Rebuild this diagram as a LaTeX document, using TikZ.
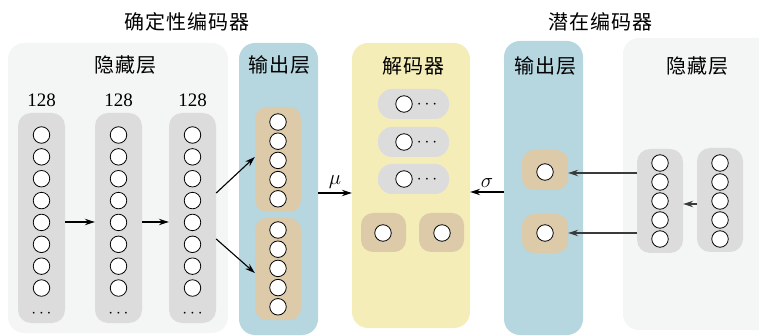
\documentclass[tikz,border=0pt]{standalone}
\usepackage{fontspec}
\setmainfont{Liberation Serif}
\newfontfamily\cjk[LetterSpace=5]{Noto Sans CJK SC}
\usetikzlibrary{arrows.meta}
\definecolor{hidbg}{HTML}{F4F6F5}
\definecolor{colgray}{HTML}{DCDCDC}
\definecolor{outblue}{HTML}{B6D7E0}
\definecolor{tanc}{HTML}{DCCAA8}
\definecolor{decyel}{HTML}{F5EDB8}
\definecolor{arrgray}{HTML}{3A3A3A}
\begin{document}
\begin{tikzpicture}[x=1pt,y=-1pt,
  neuron/.style={circle,draw=black,fill=white,line width=0.8pt,minimum size=16.5pt,inner sep=0pt},
  bigbox/.style={rounded corners=16pt,inner sep=0pt},
  colbox/.style={fill=colgray,rounded corners=13pt,inner sep=0pt},
  tanbox/.style={fill=tanc,rounded corners=12pt,inner sep=0pt},
  lab/.style={font=\cjk\fontsize{20}{20}\selectfont,inner sep=0pt},
  num/.style={font=\fontsize{19}{19}\selectfont,inner sep=0pt},
  arr/.style={line width=1.1pt,-{Stealth[length=10pt,width=6.5pt]}},
  arrg/.style={arr,draw=arrgray},
  dotsnode/.style={font=\fontsize{19}{19}\selectfont,inner sep=0pt,anchor=base,yshift=-4.8pt},
  greek/.style={font=\fontsize{20}{20}\selectfont,inner sep=1pt}
]
\useasboundingbox (0,0) rectangle (759,336);
% backgrounds
\node[bigbox,fill=hidbg,minimum width=220pt,minimum height=290pt] (hidL) at (118,188) {};
\node[bigbox,fill=outblue,minimum width=79pt,minimum height=292pt] (outL) at (278.5,189) {};
\node[bigbox,fill=decyel,minimum width=118pt,minimum height=285pt] (dec) at (411,185.5) {};
\node[bigbox,fill=outblue,minimum width=79pt,minimum height=294pt] (outR) at (543.5,188) {};
\fill[hidbg,rounded corners=16pt] (759,38) -- (623,38) -- (623,330) -- (759,330);
% titles and labels
\node[lab] (t1) at (187,22) {确定性编码器};
\node[lab] (t2) at (600,22) {潜在编码器};
\node[lab] (l1) at (125,65) {隐藏层};
\node[lab] (l2) at (279,65) {输出层};
\node[lab] (l3) at (413,66) {解码器};
\node[lab] (l4) at (545,66) {输出层};
\node[lab] (l5) at (697,66) {隐藏层};
% hidden columns (left)
\foreach \n/\x in {1/41.5,2/118.5,3/192.5}{
  \node[colbox,minimum width=47pt,minimum height=210pt] (col\n) at (\x,218) {};
  \node[num] (n\n) at (\x,100) {128};
  \node[dotsnode] (d\n) at (\x,313) {$\cdots$};
}
% output left
\node[tanbox,minimum width=46pt,minimum height=105pt] (tanT) at (278,159.5) {};
\node[tanbox,minimum width=46pt,minimum height=102pt] (tanB) at (278,269) {};
% decoder
\foreach \n/\y in {1/104,2/142,3/179}{
  \node[colbox,rounded corners=14pt,minimum width=71pt,minimum height=30pt] (pill\n) at (413.5,\y) {};
  \node[dotsnode] (pd\n) at (427,\y) {$\cdots$};
}
\node[tanbox,minimum width=45pt,minimum height=39pt] (dt1) at (383.5,232.5) {};
\node[tanbox,minimum width=45pt,minimum height=39pt] (dt2) at (441.5,232.5) {};
% output right
\node[tanbox,minimum width=46pt,minimum height=40pt] (rt1) at (545,170) {};
\node[tanbox,minimum width=46pt,minimum height=39pt] (rt2) at (545,233.5) {};
% hidden right
\node[colbox,minimum width=46pt,minimum height=104pt] (colA) at (660,201) {};
\node[colbox,minimum width=46pt,minimum height=104pt] (colB) at (720,200) {};
% arrows
\draw[arr] ([yshift=-4pt]col1.east) -- ([yshift=-4pt]col2.west);
\draw[arr] ([yshift=-4pt]col2.east) -- ([yshift=-4pt]col3.west);
\draw[arr] ([yshift=25pt]col3.east) -- ([yshift=2.5pt]tanT.west);
\draw[arr] ([yshift=-21pt]col3.east) -- ([yshift=-4pt]tanB.west);
\draw[arr] ([yshift=-4pt]outL.east) -- ([yshift=-4pt]outL.east -| dec.west) node[midway,above=3pt,greek] {$\mu$};
\draw[arr] ([yshift=-4pt]outR.west) -- ([yshift=-4pt]outR.west -| dec.east) node[midway,above=3pt,greek] {$\sigma$};
\draw[arrg] ([yshift=28pt]colA.west) -- ([yshift=28pt]colA.west -| rt1.east);
\draw[arrg] ([yshift=-32pt]colA.west) -- ([yshift=-32pt]colA.west -| rt2.east);
\draw[arrg] ([yshift=-4pt]colB.west) -- ([yshift=-4pt]colB.west -| colA.east);
% neurons
\foreach \n/\x in {1/41.5,2/118.5,3/192.5}{
  \foreach \i in {0,...,7} \node[neuron] (c\n-\i) at (\x,{135+21.86*\i}) {};
}
\foreach \i in {0,...,4}{
  \node[neuron] (oT-\i) at (278,{122+19.2*\i}) {};
  \node[neuron] (oB-\i) at (278,{230+19.2*\i}) {};
  \node[neuron] (hA-\i) at (660,{163+19*\i}) {};
  \node[neuron] (hB-\i) at (720,{163+19*\i}) {};
}
\node[neuron] (pn1) at (404,104) {};
\node[neuron] (pn2) at (404,142) {};
\node[neuron] (pn3) at (404,179) {};
\node[neuron] (dn1) at (383,233) {};
\node[neuron] (dn2) at (442,233) {};
\node[neuron] (rn1) at (545,172) {};
\node[neuron] (rn2) at (545,233) {};
\end{tikzpicture}
\end{document}
